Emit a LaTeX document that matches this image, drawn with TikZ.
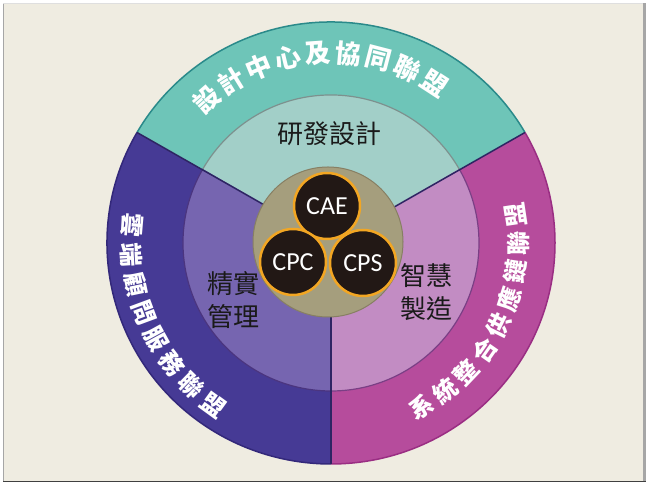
\documentclass[tikz,border=0pt]{standalone}
\usepackage{fontspec}
\setmainfont{Carlito}
\newfontfamily\cjk{Noto Sans CJK TC}
\usetikzlibrary{calc}
\definecolor{bgbeige}{HTML}{EFECE1}
\definecolor{tealO}{HTML}{6EC5B8}
\definecolor{tealI}{HTML}{A2CFC8}
\definecolor{indO}{HTML}{463A95}
\definecolor{purI}{HTML}{7665B0}
\definecolor{magO}{HTML}{B64C9C}
\definecolor{pinkI}{HTML}{C28CC3}
\definecolor{olive}{HTML}{A59E7D}
\definecolor{oliveE}{HTML}{877F63}
\definecolor{blk}{HTML}{221815}
\definecolor{orng}{HTML}{F2A623}
\definecolor{tealE}{HTML}{2A8A8A}
\definecolor{indE}{HTML}{33287A}
\definecolor{magE}{HTML}{9A2E83}
\definecolor{divc}{HTML}{2E2563}
\definecolor{inTE}{HTML}{7D918E}
\definecolor{inLE}{HTML}{4B357F}
\definecolor{inRE}{HTML}{7A3F85}
\definecolor{ink}{HTML}{1A1A1A}
\tikzset{
  hub/.style={circle, fill=blk, draw=orng, line width=2.5pt, minimum size=66pt, inner sep=0pt,
    text=white, font=\fontsize{26}{26}\selectfont},
  lbl/.style={text=ink, inner sep=0pt, font=\cjk\fontsize{26}{33}\selectfont, align=center},
  arcT/.style={text=white, inner sep=0pt, font=\cjk\bfseries\fontsize{26}{26}\selectfont},
  arcS/.style={text=white, inner sep=0pt, font=\cjk\bfseries\fontsize{24}{24}\selectfont},
  divider/.style={draw=divc, line width=1.5pt}
}
\begin{document}
\begin{tikzpicture}[x=1pt,y=1pt]
\useasboundingbox (0,0) rectangle (650,486);
\fill[white] (0,0) rectangle (650,486);
\fill[bgbeige] (3,4) rectangle (645,482);
\draw[gray!25, line width=1pt] (3,482) -- (645,482);
\draw[gray!70, line width=1pt] (3.5,4) -- (3.5,482);
\fill[gray!70] (643,4) rectangle (646,483);
\draw[black!75, line width=1pt] (3,4) -- (646,4);
\coordinate (C) at (331,243);
% outer sectors
\fill[tealO] (C) -- ++(30:224 and 221) arc[start angle=30, end angle=150, x radius=224, y radius=221] -- cycle;
\fill[indO] (C) -- ++(150:224 and 221) arc[start angle=150, end angle=270, x radius=224, y radius=221] -- cycle;
\fill[magO] (C) -- ++(270:224 and 221) arc[start angle=270, end angle=390, x radius=224, y radius=221] -- cycle;
\draw[tealE, line width=1.5pt] ($(C)+(30:224 and 221)$) arc[start angle=30, end angle=150, x radius=224, y radius=221];
\draw[indE, line width=1.5pt] ($(C)+(150:224 and 221)$) arc[start angle=150, end angle=270, x radius=224, y radius=221];
\draw[magE, line width=1.5pt] ($(C)+(270:224 and 221)$) arc[start angle=270, end angle=390, x radius=224, y radius=221];
% inner sectors
\fill[tealI] (C) -- ++(30:148) arc[start angle=30, end angle=150, radius=148] -- cycle;
\fill[purI] (C) -- ++(150:148) arc[start angle=150, end angle=270, radius=148] -- cycle;
\fill[pinkI] (C) -- ++(270:148) arc[start angle=270, end angle=390, radius=148] -- cycle;
\draw[inTE, line width=1.2pt] ($(C)+(30:148)$) arc[start angle=30, end angle=150, radius=148];
\draw[inLE, line width=1.2pt] ($(C)+(150:148)$) arc[start angle=150, end angle=270, radius=148];
\draw[inRE, line width=1.2pt] ($(C)+(270:148)$) arc[start angle=270, end angle=390, radius=148];
% dividers
\coordinate (d1) at ($(C)+(30:224 and 221)$);
\coordinate (d2) at ($(C)+(150:224 and 221)$);
\coordinate (d3) at ($(C)+(270:224 and 221)$);
\draw[divider] (C) -- (d1);
\draw[divider] (C) -- (d2);
\draw[divider] (C) -- (d3);
% center
\fill[olive, draw=oliveE, line width=1pt] (328,244) circle[radius=75];
\node[hub] (cae) at (327,280) {CAE};
\node[hub] (cpc) at (293,224) {CPC};
\node[hub] (cps) at (363,223) {CPS};
% inner labels
\node[lbl] (rd) at (329,352) {研發設計};
\node[lbl] (jm) at (233,186) {精實\\管理};
\node[lbl] (zh) at (426,193.5) {智慧\\製造};
% arc texts
\foreach \ch [count=\i] in {設,計,中,心,及,協,同,聯,盟} {
  \pgfmathsetmacro\a{131-(\i-1)*9.25}
  \pgfmathsetmacro\r{\a-90}
  \node[arcT, rotate=\r] (t\i) at ($(C)+(\a:190)$) {\ch};
}
\foreach \ch [count=\i] in {雲,端,顧,問,服,務,聯,盟} {
  \pgfmathsetmacro\a{175+(\i-1)*8.43}
  \pgfmathsetmacro\r{\a+90}
  \node[arcS, rotate=\r] (l\i) at ($(C)+(\a:200)$) {\ch};
}
\foreach \ch [count=\i] in {系,統,整,合,供,應,鏈,聯,盟} {
  \pgfmathsetmacro\a{-61+(\i-1)*8.7}
  \pgfmathsetmacro\r{\a+90}
  \node[arcS, rotate=\r] (r\i) at ($(C)+(\a:187)$) {\ch};
}
\end{tikzpicture}
\end{document}
